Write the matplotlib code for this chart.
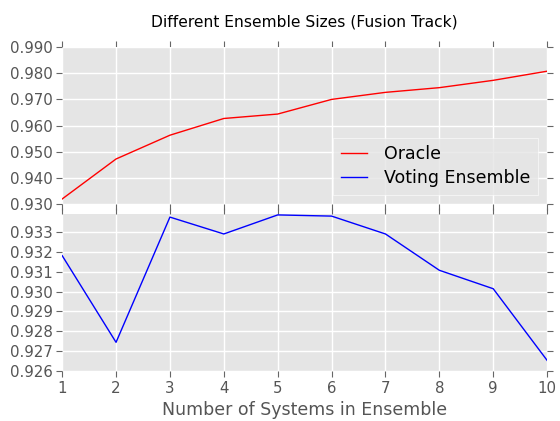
import matplotlib
matplotlib.use('Agg')
import matplotlib.pyplot as plt

# ensemble size vs accuracy, fusion track
sizes = [1, 2, 3, 4, 5, 6, 7, 8, 9, 10]
oracle = [0.9319, 0.9472, 0.9563, 0.9627, 0.9644, 0.9700, 0.9727, 0.9745, 0.9773, 0.9808]
voting = [0.93181, 0.92744, 0.93375, 0.93290, 0.93386, 0.93380, 0.93290, 0.93107, 0.93014, 0.92653]
top_ticks = [0.930, 0.940, 0.950, 0.960, 0.970, 0.980, 0.990]
bot_ticks = [0.926, 0.927, 0.928, 0.929, 0.930, 0.931, 0.932, 0.933]

plt.style.use('ggplot')
plt.rcParams['font.family'] = 'DejaVu Sans'

fig, (ax1, ax2) = plt.subplots(2, 1, sharex=True, figsize=(5.6, 4.21), dpi=100)
fig.subplots_adjust(left=0.111, right=0.977, top=0.888, bottom=0.119, hspace=0.065)

l1, = ax1.plot(sizes, oracle, color='red', lw=1.0, label='Oracle')
l2, = ax2.plot(sizes, voting, color='blue', lw=1.0, label='Voting Ensemble')

for ax in (ax1, ax2):
    ax.set_facecolor('#E5E5E5')
    ax.grid(True, color='white', lw=1.0)
    ax.set_axisbelow(True)
    for s in ax.spines.values():
        s.set_visible(False)
    ax.tick_params(direction='out', length=4, width=0.8, color='#666666',
                   labelcolor='#555555', labelsize=10.8, top=True, right=True, pad=3)

ax1.set_ylim(0.930, 0.990)
ax1.set_yticks(top_ticks)
ax1.set_yticklabels(['%.3f' % t for t in top_ticks])
ax1.tick_params(labelbottom=False)

ax2.set_ylim(0.926, 0.9339)
ax2.set_yticks(bot_ticks)
ax2.set_yticklabels(['%.3f' % t for t in bot_ticks])
ax2.set_xlim(1, 10)
ax2.set_xticks(sizes)
ax2.set_xlabel('Number of Systems in Ensemble', fontsize=12.5, color='#555555', labelpad=4)

ax1.set_title('Different Ensemble Sizes (Fusion Track)', fontsize=11.2, color='black', pad=15)

leg = ax1.legend(handles=[l1, l2], loc='lower right', fontsize=12.5, frameon=True,
                 fancybox=False, handlelength=1.5, handletextpad=1.0,
                 borderpad=0.45, labelspacing=0.35)
leg.get_frame().set_facecolor('#E5E5E5')
leg.get_frame().set_edgecolor('white')
for t in leg.get_texts():
    t.set_color('black')

plt.savefig('out.png', dpi=100)
